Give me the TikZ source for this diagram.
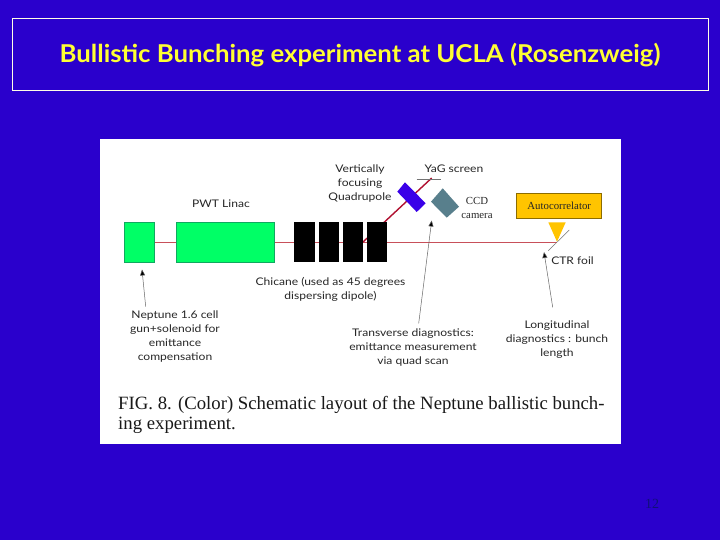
\documentclass[tikz,border=0pt]{standalone}
\usepackage{fontspec}
\setmainfont{Liberation Serif}
\newfontfamily\comicfont[FakeStretch=1.15]{Lato}
\newfontfamily\titlefont[FakeStretch=1.047]{Lato}
\usetikzlibrary{arrows.meta}
\definecolor{slidebg}{HTML}{2A00CC}
\definecolor{titleyellow}{HTML}{FFFF33}
\definecolor{greenbox}{HTML}{00FF66}
\definecolor{greenedge}{HTML}{10A860}
\definecolor{beamred}{HTML}{C8505A}
\definecolor{beamdark}{HTML}{B01030}
\definecolor{quadblue}{HTML}{3A00E8}
\definecolor{camgray}{HTML}{587F8C}
\definecolor{autoyellow}{HTML}{FFC400}
\definecolor{pagenum}{HTML}{10107A}
\tikzset{
  x=1pt,y=-1pt,
  greenstyle/.style={draw=greenedge,fill=greenbox,line width=0.7pt,inner sep=0,minimum height=40.5pt},
  blackstyle/.style={fill=black,inner sep=0,minimum width=20.5pt,minimum height=40pt},
  labelstyle/.style={font=\comicfont\fontsize{10.5}{14}\selectfont,align=center,inner sep=0,text=black!85},
  serifstyle/.style={font=\fontsize{10.8}{14}\selectfont,align=center,inner sep=0,text=black!85},
  beam/.style={draw=beamred,line width=0.9pt},
  pointer/.style={draw=black!60,line width=0.5pt,-{Triangle[length=6pt,width=5pt,fill=black]}},
  thinline/.style={draw=black!55,line width=0.5pt},
}
\begin{document}
\begin{tikzpicture}
\useasboundingbox (0,0) rectangle (720,540);
\fill[slidebg] (0,0) rectangle (720,540);
\node[draw=white!90!yellow,line width=0.7pt,inner sep=0,minimum width=696pt,minimum height=72.5pt] (titlebox) at (360,54.5) {};
\node[text=titleyellow,font=\titlefont\fontsize{24.6}{28}\selectfont\bfseries,inner sep=0] (title) at (360,55) {Bullistic Bunching experiment at UCLA (Rosenzweig)};
\node[fill=white,inner sep=0,minimum width=521pt,minimum height=305pt] (panel) at (360.5,291.5) {};
% beam anchor points
\coordinate (bendpt) at (363,242);
\coordinate (yagpt) at (431.7,178);
\coordinate (foilpt) at (556.5,242);
\coordinate (yagl) at (416.7,179);
\coordinate (yagr) at (441,179);
\coordinate (foila) at (548.3,250.7);
\coordinate (foilb) at (569.3,230);
\coordinate (gunpt) at (154.7,242);
% beams
\draw[beam] (gunpt) -- (foilpt);
\draw[beam,line width=1.4pt,draw=beamdark] (bendpt) -- (yagpt);
% components
\node[greenstyle,minimum width=30.7pt] (gun) at (139.3,242.3) {};
\node[greenstyle,minimum width=98pt] (linac) at (225,242.3) {};
\node[blackstyle] (m1) at (304.3,242) {};
\node[blackstyle] (m2) at (329,242) {};
\node[blackstyle] (m3) at (352.8,242) {};
\node[blackstyle] (m4) at (377,242) {};
\fill[quadblue] (405,182.3) -- (425.7,203.3) -- (416.7,212) -- (397.3,191.7) -- cycle;
\fill[camgray] (442.7,188.3) -- (459,206.7) -- (446.7,217.7) -- (431,201.7) -- cycle;
\draw[thinline] (yagl) -- (yagr);
\node[draw=black!45!autoyellow,fill=autoyellow,line width=0.5pt,inner sep=0,minimum width=85pt,minimum height=24.7pt,serifstyle] (auto) at (559.2,205.7) {Autocorrelator};
\fill[autoyellow] (548.3,222.3) -- (565.7,222.3) -- (557,241.7) -- cycle;
\draw[thinline] (foila) -- (foilb);
% labels
\node[labelstyle] (linaclabel) at (221,204) {PWT Linac};
\node[labelstyle] (quadlabel) at (360,184) {Vertically\\focusing\\Quadrupole};
\node[labelstyle] (yaglabel) at (454,169) {YaG screen};
\node[serifstyle] (ccdlabel) at (477,208) {CCD\\camera};
\node[labelstyle] (ctrlabel) at (572.5,261) {CTR foil};
\node[labelstyle] (chicanelabel) at (330.5,289) {Chicane (used as 45 degrees\\dispersing dipole)};
\node[labelstyle] (gunlabel) at (175,337) {Neptune 1.6 cell\\gun+solenoid for\\emittance\\compensation};
\node[labelstyle] (translabel) at (413,348) {Transverse diagnostics:\\emittance measurement\\via quad scan};
\node[labelstyle] (longlabel) at (557,340) {Longitudinal\\diagnostics : bunch\\length};
% pointers
\coordinate (t1) at (145.7,306.7);
\coordinate (h1) at (142,269.5);
\coordinate (t2) at (418.7,323.3);
\coordinate (h2) at (431.7,220.5);
\coordinate (t3) at (552.7,307.3);
\coordinate (h3) at (544,252);
\draw[pointer] (t1) -- (h1);
\draw[pointer] (t2) -- (h2);
\draw[pointer] (t3) -- (h3);
% caption
\node[anchor=base west,inner sep=0,font=\fontsize{18.75}{20}\selectfont,text=black!90] (cap1) at (118,409) {FIG. 8. (Color) Schematic layout of the Neptune ballistic bunch-};
\node[anchor=base west,inner sep=0,font=\fontsize{18.75}{20}\selectfont,text=black!90] (cap2) at (118,429) {ing experiment.};
\node[text=pagenum,font=\fontsize{14}{15}\selectfont,inner sep=0] (page) at (652,504) {12};
\end{tikzpicture}
\end{document}
